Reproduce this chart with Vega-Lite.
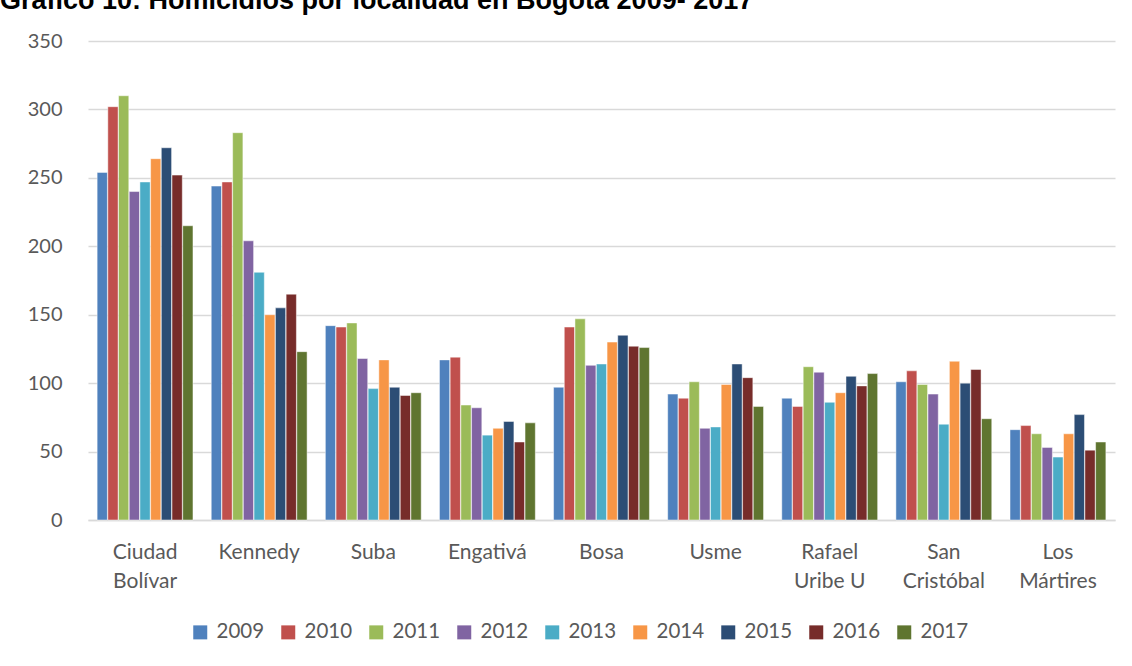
{
  "$schema": "https://vega.github.io/schema/vega-lite/v6.json",
  "autosize": "none",
  "width": 1027,
  "height": 479,
  "padding": {"left": 88, "top": 41, "right": 17, "bottom": 146},
  "background": "white",
  "title": {
    "text": "Gráfico 10: Homicidios por localidad en Bogotá 2009- 2017",
    "anchor": "start",
    "frame": "group",
    "dx": -88,
    "offset": 16,
    "fontSize": 27,
    "font": "Liberation Sans",
    "fontWeight": "bold",
    "color": "#000000"
  },
  "data": {
    "values": [
      {"loc": "Ciudad Bolívar", "year": "2009", "value": 254},
      {"loc": "Ciudad Bolívar", "year": "2010", "value": 302},
      {"loc": "Ciudad Bolívar", "year": "2011", "value": 310},
      {"loc": "Ciudad Bolívar", "year": "2012", "value": 240},
      {"loc": "Ciudad Bolívar", "year": "2013", "value": 247},
      {"loc": "Ciudad Bolívar", "year": "2014", "value": 264},
      {"loc": "Ciudad Bolívar", "year": "2015", "value": 272},
      {"loc": "Ciudad Bolívar", "year": "2016", "value": 252},
      {"loc": "Ciudad Bolívar", "year": "2017", "value": 215},
      {"loc": "Kennedy", "year": "2009", "value": 244},
      {"loc": "Kennedy", "year": "2010", "value": 247},
      {"loc": "Kennedy", "year": "2011", "value": 283},
      {"loc": "Kennedy", "year": "2012", "value": 204},
      {"loc": "Kennedy", "year": "2013", "value": 181},
      {"loc": "Kennedy", "year": "2014", "value": 150},
      {"loc": "Kennedy", "year": "2015", "value": 155},
      {"loc": "Kennedy", "year": "2016", "value": 165},
      {"loc": "Kennedy", "year": "2017", "value": 123},
      {"loc": "Suba", "year": "2009", "value": 142},
      {"loc": "Suba", "year": "2010", "value": 141},
      {"loc": "Suba", "year": "2011", "value": 144},
      {"loc": "Suba", "year": "2012", "value": 118},
      {"loc": "Suba", "year": "2013", "value": 96},
      {"loc": "Suba", "year": "2014", "value": 117},
      {"loc": "Suba", "year": "2015", "value": 97},
      {"loc": "Suba", "year": "2016", "value": 91},
      {"loc": "Suba", "year": "2017", "value": 93},
      {"loc": "Engativá", "year": "2009", "value": 117},
      {"loc": "Engativá", "year": "2010", "value": 119},
      {"loc": "Engativá", "year": "2011", "value": 84},
      {"loc": "Engativá", "year": "2012", "value": 82},
      {"loc": "Engativá", "year": "2013", "value": 62},
      {"loc": "Engativá", "year": "2014", "value": 67},
      {"loc": "Engativá", "year": "2015", "value": 72},
      {"loc": "Engativá", "year": "2016", "value": 57},
      {"loc": "Engativá", "year": "2017", "value": 71},
      {"loc": "Bosa", "year": "2009", "value": 97},
      {"loc": "Bosa", "year": "2010", "value": 141},
      {"loc": "Bosa", "year": "2011", "value": 147},
      {"loc": "Bosa", "year": "2012", "value": 113},
      {"loc": "Bosa", "year": "2013", "value": 114},
      {"loc": "Bosa", "year": "2014", "value": 130},
      {"loc": "Bosa", "year": "2015", "value": 135},
      {"loc": "Bosa", "year": "2016", "value": 127},
      {"loc": "Bosa", "year": "2017", "value": 126},
      {"loc": "Usme", "year": "2009", "value": 92},
      {"loc": "Usme", "year": "2010", "value": 89},
      {"loc": "Usme", "year": "2011", "value": 101},
      {"loc": "Usme", "year": "2012", "value": 67},
      {"loc": "Usme", "year": "2013", "value": 68},
      {"loc": "Usme", "year": "2014", "value": 99},
      {"loc": "Usme", "year": "2015", "value": 114},
      {"loc": "Usme", "year": "2016", "value": 104},
      {"loc": "Usme", "year": "2017", "value": 83},
      {"loc": "Rafael Uribe U", "year": "2009", "value": 89},
      {"loc": "Rafael Uribe U", "year": "2010", "value": 83},
      {"loc": "Rafael Uribe U", "year": "2011", "value": 112},
      {"loc": "Rafael Uribe U", "year": "2012", "value": 108},
      {"loc": "Rafael Uribe U", "year": "2013", "value": 86},
      {"loc": "Rafael Uribe U", "year": "2014", "value": 93},
      {"loc": "Rafael Uribe U", "year": "2015", "value": 105},
      {"loc": "Rafael Uribe U", "year": "2016", "value": 98},
      {"loc": "Rafael Uribe U", "year": "2017", "value": 107},
      {"loc": "San Cristóbal", "year": "2009", "value": 101},
      {"loc": "San Cristóbal", "year": "2010", "value": 109},
      {"loc": "San Cristóbal", "year": "2011", "value": 99},
      {"loc": "San Cristóbal", "year": "2012", "value": 92},
      {"loc": "San Cristóbal", "year": "2013", "value": 70},
      {"loc": "San Cristóbal", "year": "2014", "value": 116},
      {"loc": "San Cristóbal", "year": "2015", "value": 100},
      {"loc": "San Cristóbal", "year": "2016", "value": 110},
      {"loc": "San Cristóbal", "year": "2017", "value": 74},
      {"loc": "Los Mártires", "year": "2009", "value": 66},
      {"loc": "Los Mártires", "year": "2010", "value": 69},
      {"loc": "Los Mártires", "year": "2011", "value": 63},
      {"loc": "Los Mártires", "year": "2012", "value": 53},
      {"loc": "Los Mártires", "year": "2013", "value": 46},
      {"loc": "Los Mártires", "year": "2014", "value": 63},
      {"loc": "Los Mártires", "year": "2015", "value": 77},
      {"loc": "Los Mártires", "year": "2016", "value": 51},
      {"loc": "Los Mártires", "year": "2017", "value": 57}
    ]
  },
  "mark": {"type": "bar", "stroke": "white", "strokeWidth": 0.8, "strokeOpacity": 0.6},
  "encoding": {
    "x": {
      "field": "loc",
      "type": "nominal",
      "sort": null,
      "title": null,
      "scale": {"paddingInner": 0.16, "paddingOuter": 0.08},
      "axis": {
        "labelAngle": 0,
        "labelFont": "Lato",
        "labelFontSize": 21,
        "labelColor": "#595959",
        "labelPadding": 21,
        "labelLineHeight": 29,
        "labelBaseline": "top",
        "ticks": false,
        "domainColor": "#d9d9d9",
        "domainWidth": 1.5,
        "labelExpr": "datum.label == 'Rafael Uribe U' ? ['Rafael', 'Uribe U'] : split(datum.label, ' ')"
      }
    },
    "xOffset": {"field": "year", "type": "nominal", "scale": {"paddingInner": 0.04}},
    "y": {
      "field": "value",
      "type": "quantitative",
      "title": null,
      "scale": {"domain": [0, 350]},
      "axis": {
        "values": [0, 50, 100, 150, 200, 250, 300, 350],
        "labelFont": "Lato",
        "labelFontSize": 20,
        "labelColor": "#595959",
        "labelPadding": 26,
        "ticks": false,
        "domain": false,
        "gridColor": "#d9d9d9",
        "gridWidth": 1.5
      }
    },
    "color": {
      "field": "year",
      "type": "nominal",
      "title": null,
      "scale": {
        "domain": ["2009", "2010", "2011", "2012", "2013", "2014", "2015", "2016", "2017"],
        "range": ["#4F81BD", "#C0504D", "#9BBB59", "#8064A2", "#4BACC6", "#F79646", "#2C4D75", "#772C2A", "#5F7530"]
      },
      "legend": {
        "orient": "none",
        "legendX": 102,
        "legendY": 581,
        "direction": "horizontal",
        "symbolType": "square",
        "symbolSize": 196,
        "symbolStrokeWidth": 0,
        "labelFont": "Lato",
        "labelFontSize": 20.5,
        "labelColor": "#595959",
        "labelOffset": 6,
        "columnPadding": 13
      }
    }
  },
  "config": {
    "view": {"stroke": null}
  }
}
